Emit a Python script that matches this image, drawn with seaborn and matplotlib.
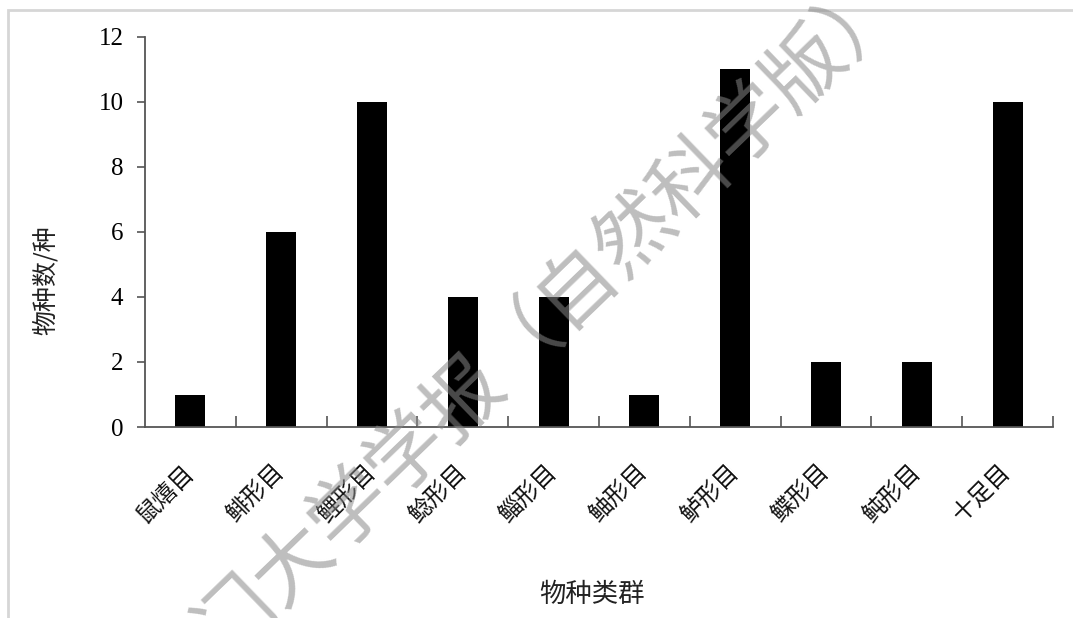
import matplotlib
matplotlib.use("Agg")
import matplotlib.pyplot as plt
import seaborn as sns
import pandas as pd
from matplotlib.patches import Rectangle
from matplotlib.ticker import FixedLocator

# Species counts per taxonomic group
categories = ["鼠熺目", "鲱形目", "鲤形目", "鲶形目", "鲻形目",
              "鲉形目", "鲈形目", "鲽形目", "鲀形目", "十足目"]
species_counts = [1, 6, 10, 4, 4, 1, 11, 2, 2, 10]
y_ticks = [0, 2, 4, 6, 8, 10, 12]

x_title = "物种类群"
y_title = "物种数/种"
watermark = "厦门大学学报（自然科学版）"

sns.set_theme(style="white")
plt.rcParams["font.family"] = ["Liberation Serif", "Noto Sans CJK SC"]
plt.rcParams["axes.unicode_minus"] = False

W, H = 1073, 618
fig = plt.figure(figsize=(W / 100, H / 100), dpi=100)
fig.patch.set_facecolor("white")
ax = fig.add_axes([145 / W, 1 - 427 / H, (1053 - 145) / W, (427 - 37) / H])

df = pd.DataFrame({"group": categories, "count": species_counts})
sns.barplot(data=df, x="group", y="count", color="black", width=0.33,
            saturation=1, ax=ax, edgecolor="none")

ax.set_xlim(-0.5, len(categories) - 0.5)
ax.set_ylim(y_ticks[0], y_ticks[-1])
ax.set_yticks(y_ticks)
ax.set_yticklabels([str(v) for v in y_ticks], fontsize=18, color="black")

# category labels sit on major ticks (hidden); boundary ticks are minor
ax.set_xticks(range(len(categories)))
ax.set_xticklabels(categories, rotation=45, ha="right", va="center",
                   rotation_mode="anchor", fontsize=17,
                   family=["Noto Sans CJK SC"], color="#111111")
ax.xaxis.set_minor_locator(FixedLocator([i + 0.5 for i in range(len(categories))]))
ax.tick_params(axis="x", which="major", length=0, pad=30)
ax.tick_params(axis="x", which="minor", direction="in", length=8,
               width=1.2, color="#555555", bottom=True)
ax.tick_params(axis="y", which="major", direction="out", length=5.5,
               width=1.2, color="#555555", pad=10, left=True)

for side in ("top", "right"):
    ax.spines[side].set_visible(False)
for side in ("left", "bottom"):
    ax.spines[side].set_color("#555555")
    ax.spines[side].set_linewidth(1.3)

ax.set_xlabel("")
ax.set_ylabel("")
fig.text(592 / W, 1 - 594 / H, x_title, ha="center", va="center",
         fontsize=19, family=["Noto Sans CJK SC"], color="#222222")
fig.text(46 / W, 1 - 280 / H, y_title, ha="center", va="center",
         rotation=90, fontsize=18, family=["Noto Sans CJK SC", "Liberation Serif"],
         color="#222222")

# outer frame
fig.patches.append(Rectangle((8 / W, -0.2), 1.2, 1.2 - 10 / H,
                             transform=fig.transFigure, fill=False,
                             edgecolor="#d6d6d6", linewidth=2, clip_on=False))

# diagonal journal stamp across the plot
fig.text(522 / W, 1 - 345 / H, watermark, ha="center", va="center",
         rotation=44, rotation_mode="anchor", fontsize=57,
         family=["Noto Sans CJK SC"], color="#888888", alpha=0.55, zorder=10)

fig.savefig("out.png", dpi=100, facecolor="white")
